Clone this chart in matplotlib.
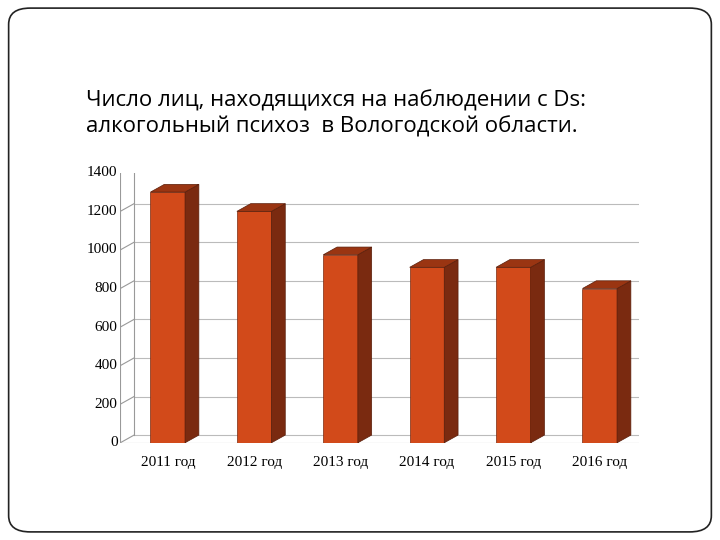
import matplotlib.pyplot as plt
from matplotlib.patches import Polygon, FancyBboxPatch

years = ['2011 год', '2012 год', '2013 год', '2014 год', '2015 год', '2016 год']
values = [1300, 1200, 975, 910, 910, 800]
yticks = [0, 200, 400, 600, 800, 1000, 1200, 1400]

fig = plt.figure(figsize=(7.2, 5.4), dpi=100)
fig.patches.append(FancyBboxPatch((0.012, 0.015), 0.976, 0.97, boxstyle='round,pad=0,rounding_size=0.03',
                                  transform=fig.transFigure, fill=False, lw=1.2, ec='#222222'))
fig.text(0.12, 0.745, 'Число лиц, находящихся на наблюдении с Ds:\nалкогольный психоз  в Вологодской области.',
         fontsize=16, family='Open Sans', va='bottom', linespacing=1.3)

ax = fig.add_axes([0.167, 0.18, 0.72, 0.5])
ax.set_xlim(0, 6)
ax.set_ylim(0, 1400)
ax.axis('off')

dx, dy = 0.16, 40  # depth offset
# back wall and grid
for t in yticks:
    ax.plot([0, dx], [t, t + dy], color='#999999', lw=0.8, zorder=1)
    ax.plot([dx, 6 + dx], [t + dy, t + dy], color='#bbbbbb', lw=0.8, zorder=1)
    ax.text(-0.03, t, str(t), ha='right', va='center', family='Liberation Serif', fontsize=11)
ax.plot([0, 0], [0, 1400], color='#999999', lw=0.8, zorder=1)
ax.plot([dx, dx], [dy, 1400 + dy], color='#999999', lw=0.8, zorder=1)
ax.plot([0, 6], [0, 0], color='#999999', lw=0.8, zorder=1)

w = 0.4
for i, (lab, v) in enumerate(zip(years, values)):
    x0 = i + 0.35
    x1 = x0 + w
    ax.add_patch(Polygon([(x0, 0), (x1, 0), (x1, v), (x0, v)], closed=True, fc='#d24a1a', ec='#7a2a10', lw=0.5, zorder=3))
    ax.add_patch(Polygon([(x1, 0), (x1 + dx, dy), (x1 + dx, v + dy), (x1, v)], closed=True, fc='#7a2a10', ec='#5a1e0a', lw=0.5, zorder=3))
    ax.add_patch(Polygon([(x0, v), (x1, v), (x1 + dx, v + dy), (x0 + dx, v + dy)], closed=True, fc='#9a3512', ec='#5a1e0a', lw=0.5, zorder=3))
    ax.text(i + 0.55, -70, lab, ha='center', va='top', family='Liberation Serif', fontsize=11)

fig.savefig('out.png', dpi=100)
